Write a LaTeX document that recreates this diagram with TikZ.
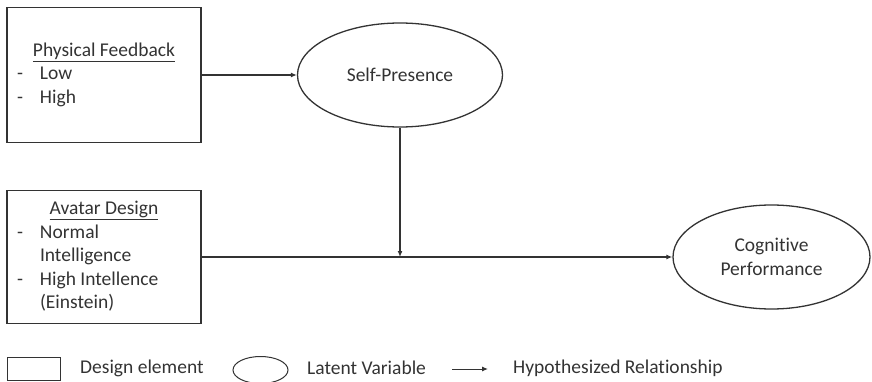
\documentclass[tikz,border=0pt]{standalone}
\usepackage{fontspec}
\setmainfont{Carlito}[Ligatures=NoCommon]
\usetikzlibrary{shapes.geometric, arrows.meta, positioning}
\definecolor{inkgray}{HTML}{333333}
\definecolor{textgray}{HTML}{333333}

\begin{document}
\begin{tikzpicture}[
    x=1pt, y=-1pt,
    font=\fontsize{19.5}{23.5}\selectfont, text=textgray,
    design/.style={rectangle, draw=inkgray, line width=1.3pt, minimum width=194pt,
                   inner xsep=10pt, inner ysep=0pt},
    latent/.style={ellipse, draw=inkgray, line width=1.3pt, inner sep=0pt, align=center},
    rel/.style={draw=inkgray, line width=1.3pt, -{Latex[length=6pt, width=5pt]}},
    legtext/.style={anchor=west, inner sep=0pt},
]
\useasboundingbox (0,0) rectangle (872,382);

% Design elements
\node[design, minimum height=135pt] (feedback) at (104,75) {%
  \begin{tabular}{@{}p{13pt}@{\hspace{10pt}}p{151pt}@{}}
    \multicolumn{2}{c}{\underline{Physical Feedback}}\\
    - & Low\\
    - & High
  \end{tabular}};
\node[design, minimum height=133pt] (avatar) at (104,257) {%
  \begin{tabular}{@{}p{13pt}@{\hspace{10pt}}p{151pt}@{}}
    \multicolumn{2}{c}{\underline{Avatar Design}}\\
    - & Normal\\
      & Intelligence\\
    - & High Intellence\\
      & (Einstein)
  \end{tabular}};

% Latent variables
\node[latent, minimum width=205pt, minimum height=104pt] (presence) at (400,75) {Self-Presence};
\node[latent, minimum width=197pt, minimum height=104pt] (cognition) at (771.5,257) {Cognitive\\Performance};

% Relationships
\coordinate (meet) at (presence.south |- avatar.east);
\draw[rel] (feedback) -- (presence);
\draw[rel] (avatar) -- (cognition);
\draw[rel] (presence.south) -- (meet);

% Legend
\node[rectangle, draw=inkgray, line width=1pt, minimum width=53pt, minimum height=23pt] (legbox) at (33.5,368.5) {};
\node[legtext] (legboxtext) at (80,368) {Design element};
\node[ellipse, draw=inkgray, line width=1pt, minimum width=55pt, minimum height=27pt] (legell) at (260.5,370) {};
\node[legtext] (legelltext) at (307,368) {Latent Variable};
\coordinate (legfrom) at (452,369);
\coordinate (legto) at (488,369);
\draw[rel, line width=1pt] (legfrom) -- (legto);
\node[legtext] (legreltext) at (513,368) {Hypothesized Relationship};

\end{tikzpicture}
\end{document}
